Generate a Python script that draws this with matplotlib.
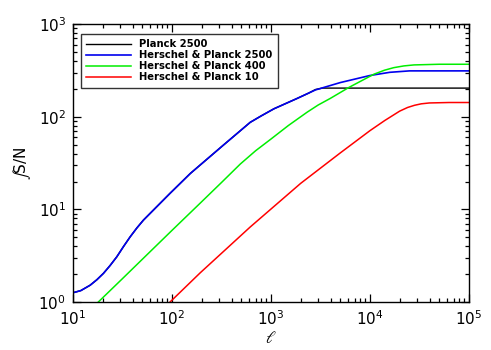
import matplotlib
matplotlib.use("Agg")
import matplotlib.pyplot as plt
from matplotlib.ticker import LogLocator, NullFormatter

# values (multipole l, integrated S/N)
l_blue = [10, 12.0, 14.9, 17.4, 20.3, 23.7, 27.7, 32.4, 37.8, 44.2, 51.5, 70.8, 95.5,
          153, 193, 331, 617, 794, 1072, 1820, 2818, 5012, 10000, 15850, 25120, 100000]
sn_blue = [1.26, 1.33, 1.52, 1.74, 2.04, 2.48, 3.08, 3.98, 5.06, 6.31, 7.67, 10.8, 14.9,
           24.4, 30.2, 49.5, 87.1, 102, 122, 157, 195, 234, 279, 302, 313, 313]

l_black = [10, 12.0, 14.9, 17.4, 20.3, 23.7, 27.7, 32.4, 37.8, 44.2, 51.5, 70.8, 95.5,
           153, 193, 331, 617, 794, 1072, 1820, 2400, 2818, 3311, 100000]
sn_black = [1.26, 1.33, 1.52, 1.74, 2.04, 2.48, 3.08, 3.98, 5.06, 6.31, 7.67, 10.8, 14.9,
            24.4, 30.2, 49.5, 87.1, 102, 122, 157, 180, 197, 204, 204]

l_green = [18.0, 31.6, 100, 193, 316, 490, 700, 1000, 1500, 2317, 3000, 3981, 6110,
           10960, 14000, 17380, 22000, 27860, 50100, 100000]
sn_green = [1.0, 1.79, 5.94, 11.7, 19.5, 30.9, 43, 57.5, 80.5, 112, 134, 158, 207,
            288, 318, 339, 354, 363, 369, 369]

l_red = [95.5, 193, 617, 1995, 5012, 10000, 14130, 19950, 24000, 28180, 33000, 39810,
         63100, 100000]
sn_red = [1.0, 2.07, 6.46, 19.1, 40.7, 70.8, 91.2, 115, 126, 133, 138, 141,
          142.6, 142.6]

labels = ["Planck 2500", "Herschel & Planck 2500", "Herschel & Planck 400",
          "Herschel & Planck 10"]

plt.rcParams['mathtext.fontset'] = 'stix'
plt.rcParams['font.family'] = 'DejaVu Sans'

fig = plt.figure(figsize=(4.91, 3.5), dpi=100)
ax = fig.add_axes([0.1487, 0.137, 0.955 - 0.1487, 0.931 - 0.137])

ax.plot(l_black, sn_black, color='black', lw=1.0, label=labels[0])
ax.plot(l_blue, sn_blue, color='#0000ee', lw=1.2, label=labels[1])
ax.plot(l_green, sn_green, color='#00ee00', lw=1.1, label=labels[2])
ax.plot(l_red, sn_red, color='#ff0000', lw=1.1, label=labels[3])

ax.set_xscale('log')
ax.set_yscale('log')
ax.set_xlim(10, 1e5)
ax.set_ylim(1, 1e3)

ax.xaxis.set_minor_locator(LogLocator(subs=range(2, 10)))
ax.yaxis.set_minor_locator(LogLocator(subs=range(2, 10)))
ax.xaxis.set_minor_formatter(NullFormatter())
ax.yaxis.set_minor_formatter(NullFormatter())
ax.tick_params(which='both', direction='in', top=True, right=True, width=0.9)
ax.tick_params(which='major', length=6, labelsize=11, pad=5)
ax.tick_params(which='minor', length=3)
for sp in ax.spines.values():
    sp.set_linewidth(1.0)

ax.set_xlabel(r'$\ell$', fontsize=12, labelpad=1)
ax.set_ylabel(r'$\int$S/N', fontsize=11, labelpad=4)

leg = ax.legend(loc='upper left', bbox_to_anchor=(0.02, 0.965),
                prop={'weight': 'bold', 'size': 7.2}, frameon=True, fancybox=False,
                handlelength=4.5, handletextpad=0.8, labelspacing=0.1,
                borderpad=0.55, borderaxespad=0)
leg.get_frame().set_edgecolor('black')
leg.get_frame().set_linewidth(1.0)

fig.savefig('out.png', dpi=100)
